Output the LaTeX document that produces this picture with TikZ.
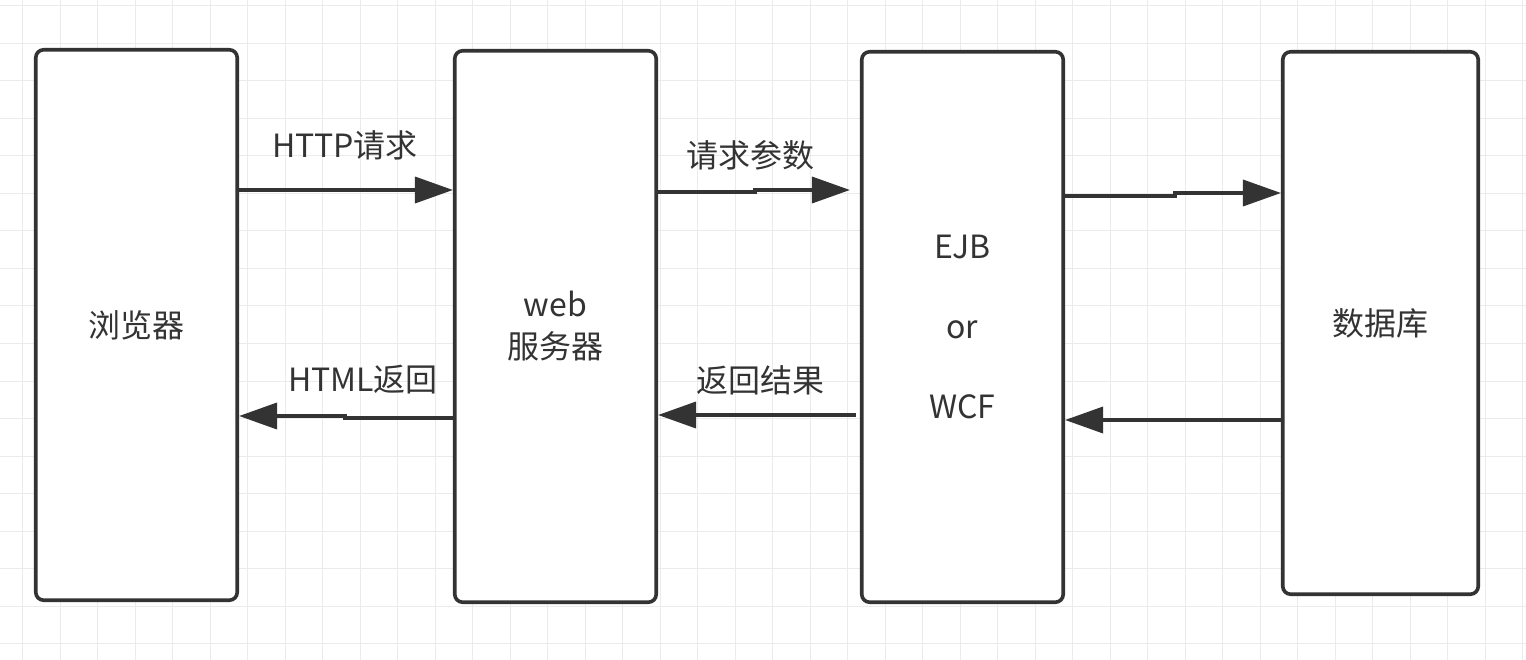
\documentclass[tikz,border=0pt]{standalone}
\usepackage{fontspec}
\setmainfont{Noto Sans CJK SC}
\usetikzlibrary{arrows.meta}
\definecolor{ink}{HTML}{333333}
\definecolor{gridc}{HTML}{EBEBEB}
\tikzset{
  box/.style={draw=ink, line width=3.6pt, rounded corners=8pt, fill=white, align=center,
    font=\fontsize{32}{42}\selectfont, text=ink, inner sep=0pt},
  arr/.style={draw=ink, line width=3.6pt, -{Triangle[length=38pt,width=26pt]}},
  lbl/.style={font=\fontsize{32}{38}\selectfont, text=ink, inner sep=0pt}
}
\begin{document}
\begin{tikzpicture}[x=1pt,y=-1pt]
\useasboundingbox (0,0) rectangle (1526,660);
\fill[white] (0,0) rectangle (1526,660);
\foreach \i in {0,...,40} { \draw[gridc, line width=1pt] (22.7+37.5*\i,0) -- (22.7+37.5*\i,660); }
\foreach \j in {0,...,17} { \draw[gridc, line width=1pt] (0,6+37.5*\j) -- (1526,6+37.5*\j); }

\node[box, minimum width=201.5pt, minimum height=550.5pt] (b1) at (136.5,325) {浏览器};
\node[box, minimum width=201.5pt, minimum height=551.5pt] (b2) at (555.5,326.5) {web\\服务器};
\node[box, minimum width=201.5pt, minimum height=550.5pt] (b3) at (962.5,327) {EJB\\[38pt]or\\[38pt]WCF};
\node[box, minimum width=195.5pt, minimum height=542.5pt] (b4) at (1380.5,323) {数据库};

\coordinate (y1) at (0,190);
\coordinate (y2a) at (0,192);
\coordinate (y2b) at (0,190);
\coordinate (y3a) at (0,196);
\coordinate (y3b) at (0,193);
\coordinate (y4) at (0,420);
\coordinate (y5) at (0,415);
\coordinate (y6a) at (0,418);
\coordinate (y6b) at (0,416);

\draw[arr] (b1.east |- y1) -- (b2.west |- y1);
\draw[arr, shorten >=10pt] (b2.east |- y2a) -- (755,192) -- (755,190) -- (b3.west |- y2b);
\draw[arr] (b3.east |- y3a) -- (1175,196) -- (1175,193) -- (b4.west |- y3b);
\draw[arr] (b4.west |- y4) -- (b3.east |- y4);
\draw[arr, shorten <=4pt] (b3.west |- y5) -- (b2.east |- y5);
\draw[arr] (b2.west |- y6a) -- (345,418) -- (345,416) -- (b1.east |- y6b);

\node[lbl] (l1) at (345,145) {HTTP请求};
\node[lbl] (l2) at (750,155) {请求参数};
\node[lbl] (l3) at (760,380) {返回结果};
\node[lbl] (l4) at (363,380) {HTML返回};
\end{tikzpicture}
\end{document}
